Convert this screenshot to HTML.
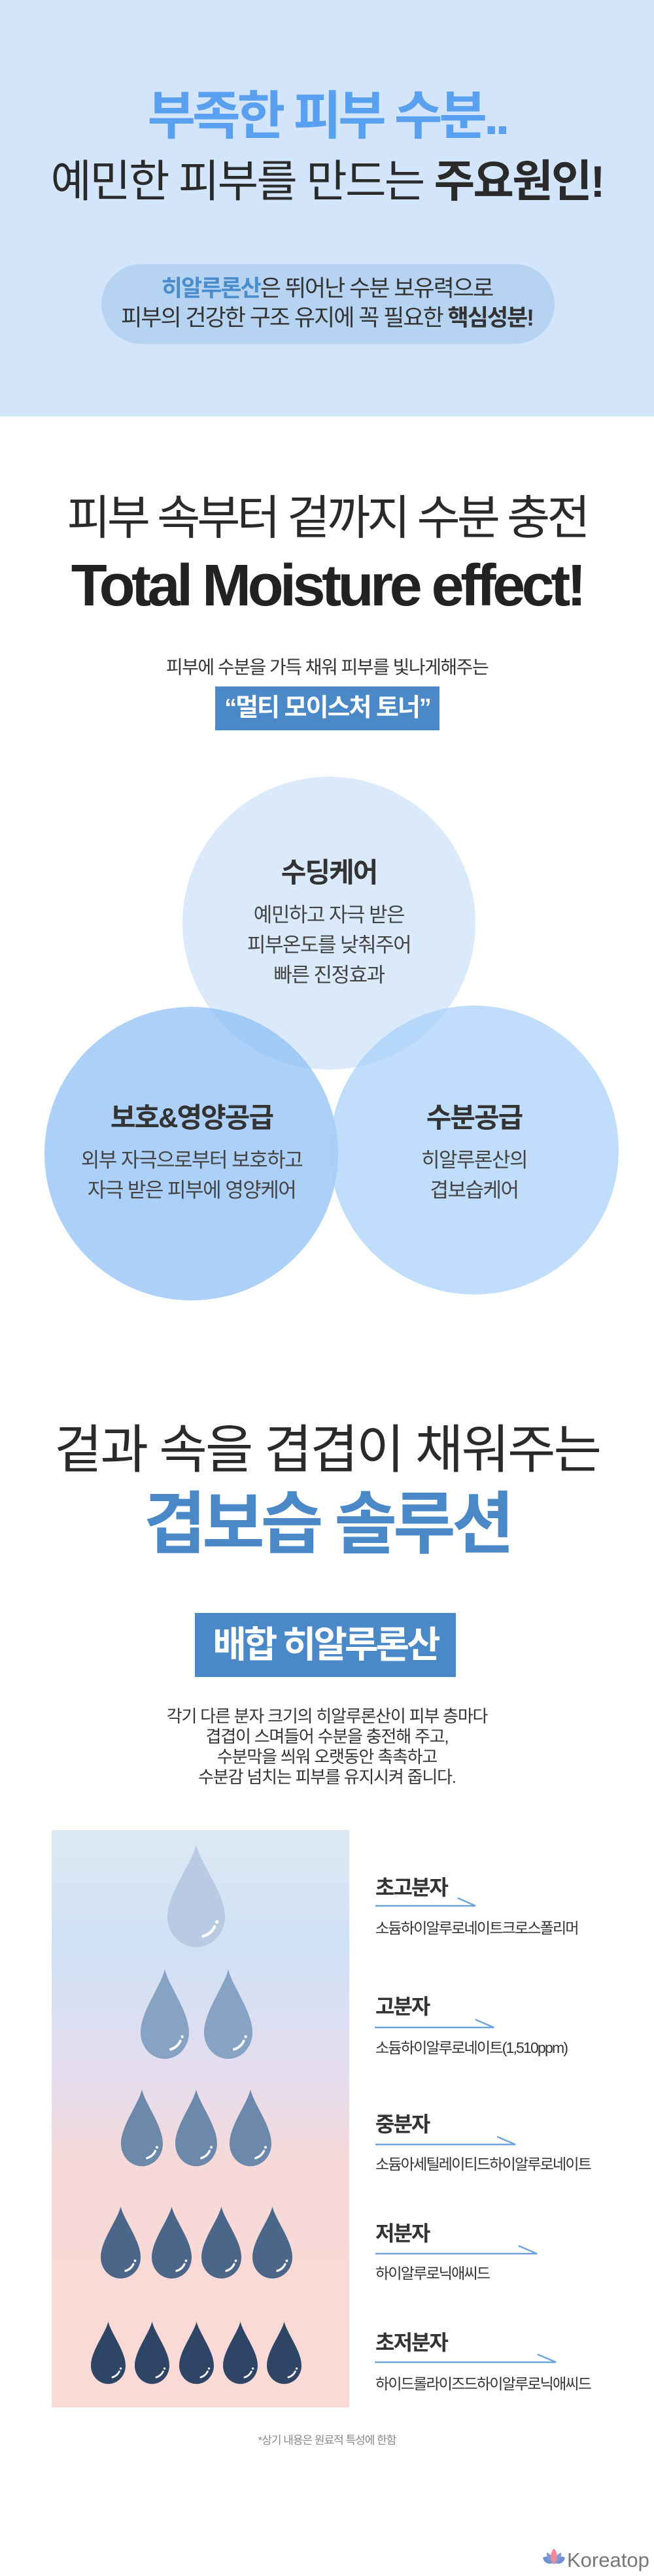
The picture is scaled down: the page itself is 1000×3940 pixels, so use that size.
<!DOCTYPE html>
<html><head><meta charset="utf-8">
<style>
*{margin:0;padding:0;box-sizing:border-box}
body{width:1000px;height:3940px;position:relative;background:#fff;font-family:"Liberation Sans","Noto Sans CJK KR",sans-serif;overflow:hidden}
.a{position:absolute}
.c{position:absolute;left:0;width:1000px;text-align:center;white-space:nowrap}
.circ{position:absolute;border-radius:50%}
.ct{position:absolute;text-align:center;white-space:nowrap;color:#444}
.lab{position:absolute;left:574px;font-weight:bold;font-size:32px;color:#333;letter-spacing:-2px;line-height:32px}
.sub{position:absolute;left:574px;font-size:23px;color:#333;letter-spacing:-1.8px;line-height:23px;white-space:nowrap}
</style></head><body>

<div class="a" style="left:0;top:0;width:1000px;height:637px;background:#d3e5fb"></div>
<div class="c" style="top:138px;font-size:80px;line-height:80px;font-weight:bold;color:#5aa0f0;letter-spacing:-5px">부족한 피부 수분..</div>
<div class="c" style="top:244px;font-size:68px;line-height:68px;color:#2a2a2a;letter-spacing:-2.8px">예민한 피부를 만드는 <b>주요원인!</b></div>
<div class="a" style="left:155px;top:404px;width:693px;height:122px;border-radius:61px;background:#b6d4f2"></div>
<div class="c" style="top:424px;font-size:35px;line-height:35px;color:#333;letter-spacing:-2px"><b style="color:#4a8ccc">히알루론산</b>은 뛰어난 수분 보유력으로</div>
<div class="c" style="top:469px;font-size:35px;line-height:35px;color:#333;letter-spacing:-2px">피부의 건강한 구조 유지에 꼭 필요한 <b>핵심성분!</b></div>

<div class="c" style="top:757px;font-size:72px;line-height:72px;color:#2a2a2a;letter-spacing:-5px">피부 속부터 겉까지 수분 충전</div>
<div class="c" style="top:851px;font-size:90px;line-height:90px;font-weight:bold;color:#222;letter-spacing:-5.5px">Total Moisture effect!</div>
<div class="c" style="top:1007px;font-size:28px;line-height:28px;color:#333;letter-spacing:-1.5px">피부에 수분을 가득 채워 피부를 빛나게해주는</div>
<div class="a" style="left:329px;top:1050px;width:343px;height:67px;background:#4a88c8;color:#fff;font-weight:bold;font-size:38px;line-height:67px;text-align:center;letter-spacing:-2px;white-space:nowrap">“멀티 모이스처 토너”</div>

<div class="circ" style="left:279px;top:1188px;width:448px;height:448px;background:#dbeafb"></div>
<div class="circ" style="left:68px;top:1540px;width:449px;height:449px;background:rgba(140,190,245,0.72)"></div>
<div class="circ" style="left:504px;top:1538px;width:442px;height:442px;background:rgba(165,207,250,0.7)"></div>

<div class="ct" style="left:303px;width:400px;top:1314px;font-size:42px;line-height:42px;font-weight:bold;color:#333;letter-spacing:-2px">수딩케어</div>
<div class="ct" style="left:303px;width:400px;top:1377px;font-size:31px;line-height:46px;letter-spacing:-1.5px">예민하고 자극 받은<br>피부온도를 낮춰주어<br>빠른 진정효과</div>

<div class="ct" style="left:43px;width:500px;top:1689px;font-size:42px;line-height:42px;font-weight:bold;color:#333;letter-spacing:-2px">보호&amp;영양공급</div>
<div class="ct" style="left:43px;width:500px;top:1752px;font-size:31px;line-height:46px;letter-spacing:-1.5px">외부 자극으로부터 보호하고<br>자극 받은 피부에 영양케어</div>

<div class="ct" style="left:525px;width:400px;top:1689px;font-size:42px;line-height:42px;font-weight:bold;color:#333;letter-spacing:-2px">수분공급</div>
<div class="ct" style="left:525px;width:400px;top:1752px;font-size:31px;line-height:46px;letter-spacing:-1.5px">히알루론산의<br>겹보습케어</div>

<div class="c" style="top:2178px;font-size:80px;line-height:80px;color:#2a2a2a;letter-spacing:-3px">겉과 속을 겹겹이 채워주는</div>
<div class="c" style="top:2280px;font-size:104px;line-height:104px;font-weight:bold;color:#4a88c8;letter-spacing:-6px">겹보습 솔루션</div>
<div class="a" style="left:298px;top:2467px;width:399px;height:98px;background:#4a88c8;color:#fff;font-weight:bold;font-size:56px;line-height:98px;text-align:center;letter-spacing:-4px;white-space:nowrap">배합 히알루론산</div>
<div class="c" style="top:2610px;font-size:26px;line-height:31px;color:#333;letter-spacing:-1.2px">각기 다른 분자 크기의 히알루론산이 피부 층마다<br>겹겹이 스며들어 수분을 충전해 주고,<br>수분막을 씌워 오랫동안 촉촉하고<br>수분감 넘치는 피부를 유지시켜 줍니다.</div>

<svg class="a" style="left:0;top:0" width="1000" height="3940" viewBox="0 0 1000 3940">
<defs>
<linearGradient id="g" x1="0" y1="0" x2="0" y2="1">
<stop offset="0" stop-color="#dde8f4"/>
<stop offset="0.2" stop-color="#cfe1f4"/>
<stop offset="0.42" stop-color="#e4ddef"/>
<stop offset="0.58" stop-color="#f6d9d8"/>
<stop offset="1" stop-color="#fadad5"/>
</linearGradient>
<path id="d" d="M50 0 C42 32 0 80 0 120 A50 50 0 0 0 100 120 C100 80 58 32 50 0Z"/>
<g id="h"><path d="M62 152 Q76 148 82 136" stroke="#fff" stroke-width="5" fill="none" stroke-linecap="round"/><circle cx="86" cy="128" r="3" fill="#fff"/></g>
</defs>
<rect x="79" y="2799" width="455" height="883" fill="url(#g)"/>
<g transform="translate(256,2822) scale(0.88,0.918)"><use href="#d" fill="#b8cbe3"/><use href="#h"/></g>
<g transform="translate(215,3012) scale(0.74,0.806)"><use href="#d" fill="#87a3c4"/><use href="#h"/></g>
<g transform="translate(312,3012) scale(0.74,0.806)"><use href="#d" fill="#87a3c4"/><use href="#h"/></g>
<g transform="translate(185,3196) scale(0.64,0.69)"><use href="#d" fill="#6c88aa"/><use href="#h"/></g>
<g transform="translate(268,3196) scale(0.64,0.69)"><use href="#d" fill="#6c88aa"/><use href="#h"/></g>
<g transform="translate(351,3196) scale(0.64,0.69)"><use href="#d" fill="#6c88aa"/><use href="#h"/></g>
<g transform="translate(154,3375) scale(0.61,0.647)"><use href="#d" fill="#4b6688"/><use href="#h"/></g>
<g transform="translate(232,3375) scale(0.61,0.647)"><use href="#d" fill="#4b6688"/><use href="#h"/></g>
<g transform="translate(308,3375) scale(0.61,0.647)"><use href="#d" fill="#4b6688"/><use href="#h"/></g>
<g transform="translate(386,3375) scale(0.61,0.647)"><use href="#d" fill="#4b6688"/><use href="#h"/></g>
<g transform="translate(139,3551) scale(0.53,0.56)"><use href="#d" fill="#2f4565"/><use href="#h"/></g>
<g transform="translate(206,3551) scale(0.53,0.56)"><use href="#d" fill="#2f4565"/><use href="#h"/></g>
<g transform="translate(274,3551) scale(0.53,0.56)"><use href="#d" fill="#2f4565"/><use href="#h"/></g>
<g transform="translate(341,3551) scale(0.53,0.56)"><use href="#d" fill="#2f4565"/><use href="#h"/></g>
<g transform="translate(408,3551) scale(0.53,0.56)"><use href="#d" fill="#2f4565"/><use href="#h"/></g>

<g stroke="#6fa3dc" stroke-width="2.5" fill="none">
<polyline points="574,2915 727,2915 700,2903"/>
<polyline points="573,3101 755,3101 727,3089"/>
<polyline points="574,3280 788,3280 760,3268"/>
<polyline points="574,3447 821,3447 793,3435"/>
<polyline points="573,3613 850,3613 822,3601"/>
</g>

<g transform="translate(828,3898)">
<path d="M2 14 C8 10 14 14 18 22 C10 25 4 22 2 14Z" fill="#6f8fcf"/>
<path d="M36 14 C30 10 24 14 20 22 C28 25 34 22 36 14Z" fill="#6f8fcf"/>
<path d="M8 6 C14 8 18 14 19 24 C11 20 7 14 8 6Z" fill="#7f9ad6"/>
<path d="M30 6 C24 8 20 14 19 24 C27 20 31 14 30 6Z" fill="#7f9ad6"/>
<path d="M19 0 C25 6 26 16 19 24 C12 16 13 6 19 0Z" fill="#ee8a9a"/>
</g>
</svg>

<div class="lab" style="top:2871px">초고분자</div>
<div class="sub" style="top:2938px">소듐하이알루로네이트크로스폴리머</div>
<div class="lab" style="top:3053px">고분자</div>
<div class="sub" style="top:3121px">소듐하이알루로네이트(1,510ppm)</div>
<div class="lab" style="top:3233px">중분자</div>
<div class="sub" style="top:3299px">소듐아세틸레이티드하이알루로네이트</div>
<div class="lab" style="top:3400px">저분자</div>
<div class="sub" style="top:3466px">하이알루로닉애씨드</div>
<div class="lab" style="top:3567px">초저분자</div>
<div class="sub" style="top:3635px">하이드롤라이즈드하이알루로닉애씨드</div>

<div class="c" style="top:3724px;font-size:17px;line-height:18px;color:#888;letter-spacing:-1px">*상기 내용은 원료적 특성에 한함</div>
<div class="a" style="left:867px;top:3900px;font-size:31px;line-height:32px;color:#777;white-space:nowrap">Koreatop</div>
</body></html>
